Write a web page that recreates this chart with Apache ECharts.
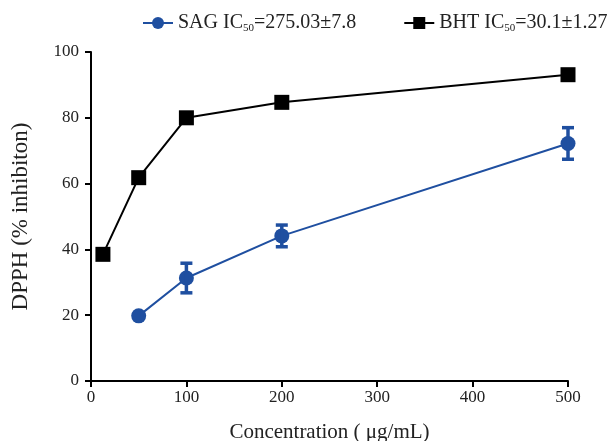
<!DOCTYPE html>
<html>
<head>
<meta charset="utf-8">
<script src="https://cdn.jsdelivr.net/npm/echarts@6/dist/echarts.min.js"></script>
<style>
  html, body { margin: 0; padding: 0; background: #fff; }
  #chart { width: 607px; height: 441px; }
</style>
</head>
<body>
<div id="chart"></div>
<script>
// data
var sagConc = [50, 100, 200, 500]
var sagValues = [19.8, 31.3, 44.1, 72.2]
var sagErrors = [0, 4.5, 3.3, 4.8]
var bhtConc = [12.5, 50, 100, 200, 500]
var bhtValues = [38.5, 61.8, 80.0, 84.7, 93.1]
var xTicks = [0, 100, 200, 300, 400, 500]
var yTicks = [0, 20, 40, 60, 80, 100]

var blue = '#1f4fa0'
var font = 'Liberation Serif'

var chart = echarts.init(document.getElementById('chart'))

function pairs(xs, ys) {
  return xs.map(function (x, i) { return [x, ys[i]] })
}

// error bars: vertical stem with caps
function renderErr(params, api) {
  var x = api.value(0)
  var lo = api.coord([x, api.value(1)])
  var hi = api.coord([x, api.value(2)])
  var w = 6
  var style = { stroke: blue, lineWidth: 3.5 }
  return {
    type: 'group',
    children: [
      { type: 'line', shape: { x1: lo[0], y1: lo[1], x2: hi[0], y2: hi[1] }, style: style },
      { type: 'line', shape: { x1: lo[0] - w, y1: lo[1], x2: lo[0] + w, y2: lo[1] }, style: style },
      { type: 'line', shape: { x1: hi[0] - w, y1: hi[1], x2: hi[0] + w, y2: hi[1] }, style: style }
    ]
  }
}

var errData = sagConc.map(function (x, i) {
  return [x, sagValues[i] - sagErrors[i], sagValues[i] + sagErrors[i]]
}).filter(function (d, i) { return sagErrors[i] > 0 })

var option = {
  animation: false,
  textStyle: { fontFamily: font },
  legend: {
    orient: 'horizontal',
    top: 13,
    left: 142,
    width: 560,
    padding: 0,
    itemWidth: 30,
    itemHeight: 15,
    itemGap: 47,
    data: ['SAG', 'BHT'],
    formatter: function (name) {
      return name === 'SAG'
        ? '{t|SAG IC}{s|50}{t|=275.03±7.8}'
        : '{t|BHT IC}{s|50}{t|=30.1±1.27}'
    },
    textStyle: {
      rich: {
        t: { fontFamily: font, fontSize: 20, color: '#222' },
        s: { fontFamily: font, fontSize: 11, color: '#222', verticalAlign: 'bottom', padding: [10, 0, 0, 0] }
      }
    }
  },
  grid: { left: 91, right: 39, top: 52, bottom: 60, outerBoundsMode: 'none' },
  xAxis: {
    type: 'value',
    min: xTicks[0],
    max: xTicks[xTicks.length - 1],
    interval: 100,
    name: 'Concentration ( μg/mL)',
    nameLocation: 'middle',
    nameGap: 41,
    nameTextStyle: { fontFamily: font, fontSize: 21, color: '#222' },
    axisLine: { onZero: false, lineStyle: { color: '#000', width: 2 } },
    axisTick: { length: 6, lineStyle: { color: '#000', width: 2 } },
    axisLabel: { fontFamily: font, fontSize: 17, color: '#222', margin: 8 },
    splitLine: { show: false }
  },
  yAxis: {
    type: 'value',
    min: yTicks[0],
    max: yTicks[yTicks.length - 1],
    interval: 20,
    name: 'DPPH (% inhibiton)',
    nameLocation: 'middle',
    nameGap: 59,
    nameTextStyle: { fontFamily: font, fontSize: 23, color: '#222' },
    axisLine: { show: true, lineStyle: { color: '#000', width: 2 } },
    axisTick: { show: true, length: 6, lineStyle: { color: '#000', width: 2 } },
    axisLabel: { fontFamily: font, fontSize: 17, color: '#222', margin: 12 },
    splitLine: { show: false }
  },
  series: [
    {
      name: 'SAG',
      type: 'line',
      data: pairs(sagConc, sagValues),
      symbol: 'circle',
      symbolSize: 15,
      lineStyle: { color: blue, width: 2 },
      itemStyle: { color: blue },
      z: 3
    },
    {
      name: 'BHT',
      type: 'line',
      data: pairs(bhtConc, bhtValues),
      symbol: 'rect',
      symbolSize: 15,
      lineStyle: { color: '#000', width: 2 },
      itemStyle: { color: '#000' },
      z: 3
    },
    {
      name: 'SAG err',
      type: 'custom',
      renderItem: renderErr,
      data: errData,
      encode: { x: 0, y: [1, 2] },
      z: 4
    }
  ]
}

chart.setOption(option)
</script>
</body>
</html>
